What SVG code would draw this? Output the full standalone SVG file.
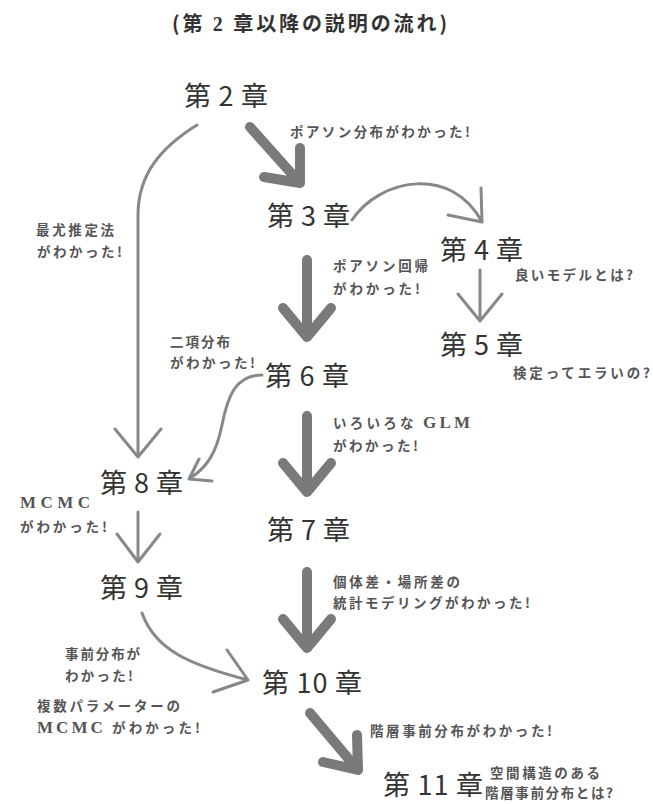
<svg xmlns="http://www.w3.org/2000/svg" width="653" height="804" viewBox="0 0 653 804">
<style>
.ch{font-family:"Noto Sans CJK JP","Noto Sans",sans-serif;font-size:27px;fill:#333;}
.an{font-family:"Noto Sans CJK JP","Noto Sans",sans-serif;font-size:13.5px;font-weight:600;fill:#555;}
.sr{font-family:"Liberation Serif",serif;font-weight:bold;}
.mc{font-family:"Liberation Serif",serif;font-weight:bold;font-size:17px;}
.title{font-family:"Noto Sans CJK JP","Noto Sans",sans-serif;font-size:20px;font-weight:bold;fill:#333;}
.thick{fill:none;stroke:#7a7a7a;stroke-width:10;stroke-linecap:round;stroke-linejoin:round;}
.thin{fill:none;stroke:#888;stroke-width:3;stroke-linecap:round;stroke-linejoin:round;}
</style>
<rect width="653" height="804" fill="#fff"/>
<text class="title" x="172" y="31" textLength="275" lengthAdjust="spacing">(第 <tspan class="sr">2</tspan> 章以降の説明の流れ)</text>

<g id="connectors">
  <path class="thick" d="M250,127 L300,183 M300,148 L300,183 L264,177"/>
  <path class="thick" d="M307,260 L307,337 M283,308 L307,337 L331,308"/>
  <path class="thick" d="M307,416 L307,492 M283,463 L307,492 L331,463"/>
  <path class="thick" d="M307,572 L307,648 M283,619 L307,648 L331,619"/>
  <path class="thick" d="M310,713 L358,770 M357,735 L358,770 L323,762"/>
  <path class="thin" d="M197,125 C160,148 138,175 138,215 L138,457 M115,429 L138,457 L161,429"/>
  <path class="thin" d="M352,220 C380,178 452,165 482,222 M481,188 L482,222 L448,215"/>
  <path class="thin" d="M480,270 L480,321 M458,294 L480,321 L502,294"/>
  <path class="thin" d="M262,375 C236,375 228,395 222,425 C216,455 206,468 189,479 M212,481 L189,479 L199,459"/>
  <path class="thin" d="M138,512 L138,562 M117,534 L138,562 L160,534"/>
  <path class="thin" d="M142,613 C155,650 190,665 248,680 M227,650 L248,680 L213,692"/>
</g>

<g id="ch2"><text class="ch" x="184" y="106" textLength="84" lengthAdjust="spacing">第 2 章</text></g>
<g id="ch3"><text class="ch" x="267" y="226" textLength="83" lengthAdjust="spacing">第 3 章</text></g>
<g id="ch4"><text class="ch" x="440" y="260" textLength="83" lengthAdjust="spacing">第 4 章</text></g>
<g id="ch5"><text class="ch" x="440" y="355" textLength="83" lengthAdjust="spacing">第 5 章</text></g>
<g id="ch6"><text class="ch" x="265" y="386" textLength="84" lengthAdjust="spacing">第 6 章</text></g>
<g id="ch7"><text class="ch" x="267" y="540" textLength="83" lengthAdjust="spacing">第 7 章</text></g>
<g id="ch8"><text class="ch" x="100" y="493" textLength="83" lengthAdjust="spacing">第 8 章</text></g>
<g id="ch9"><text class="ch" x="100" y="598" textLength="83" lengthAdjust="spacing">第 9 章</text></g>
<g id="ch10"><text class="ch" x="262" y="693" textLength="100" lengthAdjust="spacing">第 10 章</text></g>
<g id="ch11"><text class="ch" x="383" y="795" textLength="100" lengthAdjust="spacing">第 11 章</text></g>

<g id="labels">
  <text class="an" x="290" y="137" textLength="180" lengthAdjust="spacing">ポアソン分布がわかった!</text>
  <text class="an" x="36" y="235" textLength="78" lengthAdjust="spacing">最尤推定法</text>
  <text class="an" x="37" y="257" textLength="85" lengthAdjust="spacing">がわかった!</text>
  <text class="an" x="333" y="271" textLength="95" lengthAdjust="spacing">ポアソン回帰</text>
  <text class="an" x="333" y="294" textLength="87" lengthAdjust="spacing">がわかった!</text>
  <text class="an" x="515" y="280" textLength="118" lengthAdjust="spacing">良いモデルとは?</text>
  <text class="an" x="513" y="378" textLength="137" lengthAdjust="spacing">検定ってエラいの?</text>
  <text class="an" x="170" y="347" textLength="60" lengthAdjust="spacing">二項分布</text>
  <text class="an" x="170" y="368" textLength="85" lengthAdjust="spacing">がわかった!</text>
  <text class="an" x="333" y="428" textLength="137" lengthAdjust="spacing">いろいろな <tspan class="mc">GLM</tspan></text>
  <text class="an" x="333" y="451" textLength="85" lengthAdjust="spacing">がわかった!</text>
  <text class="an mc" x="20" y="508" textLength="70" lengthAdjust="spacing">MCMC</text>
  <text class="an" x="20" y="532" textLength="87" lengthAdjust="spacing">がわかった!</text>
  <text class="an" x="333" y="587" textLength="127" lengthAdjust="spacing">個体差・場所差の</text>
  <text class="an" x="333" y="608" textLength="197" lengthAdjust="spacing">統計モデリングがわかった!</text>
  <text class="an" x="65" y="659" textLength="75" lengthAdjust="spacing">事前分布が</text>
  <text class="an" x="65" y="681" textLength="68" lengthAdjust="spacing">わかった!</text>
  <text class="an" x="37" y="711" textLength="143" lengthAdjust="spacing">複数パラメーターの</text>
  <text class="an" x="37" y="733" textLength="163" lengthAdjust="spacing"><tspan class="mc">MCMC</tspan> がわかった!</text>
  <text class="an" x="370" y="736" textLength="182" lengthAdjust="spacing">階層事前分布がわかった!</text>
  <text class="an" x="490" y="778" textLength="110" lengthAdjust="spacing">空間構造のある</text>
  <text class="an" x="485" y="798" textLength="128" lengthAdjust="spacing">階層事前分布とは?</text>
</g>
</svg>
